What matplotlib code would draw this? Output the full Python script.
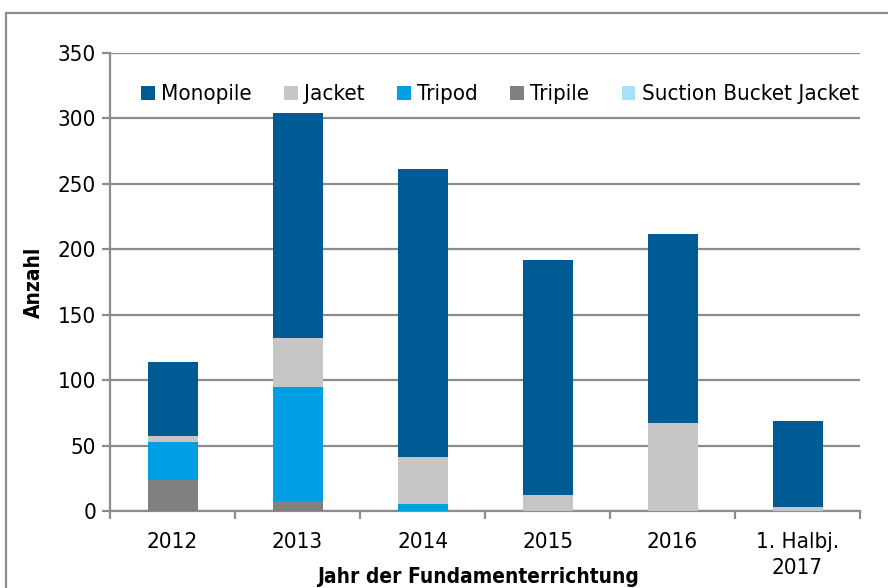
import numpy as np
import matplotlib.pyplot as plt
from matplotlib.patches import Rectangle

plt.rcParams['font.family'] = ['DejaVu Sans']
plt.rcParams['font.stretch'] = 'condensed'

# Daten
kategorien = ['2012', '2013', '2014', '2015', '2016', '1. Halbj.\n2017']
tripile = [24, 8, 0, 0, 0, 0]
tripod = [29, 87, 5, 0, 0, 0]
jacket = [4, 37, 36, 12, 67, 3]
monopile = [57, 172, 220, 180, 145, 66]
suction = [0, 0, 0, 0, 0, 0]

serien = [('Monopile', monopile, '#005A94'),
          ('Jacket', jacket, '#C6C6C6'),
          ('Tripod', tripod, '#009FE3'),
          ('Tripile', tripile, '#808080'),
          ('Suction Bucket Jacket', suction, '#A6E1F8')]

fig = plt.figure(figsize=(8.88, 5.88), dpi=100)
ax = fig.add_axes([110 / 888, 1 - 511 / 588, 750 / 888, 458 / 588])

x = np.arange(len(kategorien))
# Stapelreihenfolge von unten: Tripile, Tripod, Jacket, Monopile, Suction
unten = np.zeros(len(kategorien))
stapel = [serien[3], serien[2], serien[1], serien[0], serien[4]]
balken = {}
for name, werte, farbe in stapel:
    b = ax.bar(x, werte, 0.4, bottom=unten, color=farbe, zorder=3, label=name)
    balken[name] = b
    unten += np.array(werte)

ax.set_xlim(-0.5, len(kategorien) - 0.5)
ax.set_ylim(0, 350)
ax.set_yticks(range(0, 351, 50))
ax.yaxis.grid(True, color='#8C8C8C', linewidth=1.6, zorder=0)
ax.set_xticks(x)
ax.set_xticklabels(kategorien, fontsize=16, linespacing=1.4)
ax.set_xticks(np.arange(-0.5, len(kategorien)), minor=True)
ax.tick_params(axis='x', which='major', length=0, pad=15)
ax.tick_params(axis='x', which='minor', length=6, width=1.6, color='#8C8C8C')
ax.tick_params(axis='y', length=6, width=1.6, color='#8C8C8C', labelsize=16, pad=4)

for s in ['top', 'right']:
    ax.spines[s].set_visible(False)
for s in ['left', 'bottom']:
    ax.spines[s].set_color('#8C8C8C')
    ax.spines[s].set_linewidth(1.6)

ax.set_ylabel('Anzahl', fontsize=15, fontweight='bold', labelpad=10)
ax.set_xlabel('Jahr der Fundamenterrichtung', fontsize=15, fontweight='bold')
ax.xaxis.set_label_coords(0.49, -0.122)

handles = [balken[n] for n, _, _ in serien]
labels = [n for n, _, _ in serien]
ax.legend(handles, labels, loc='upper center', bbox_to_anchor=(0.52, 0.975), ncol=5,
          frameon=False, fontsize=16, handlelength=0.6, handleheight=0.6,
          handletextpad=0.3, columnspacing=1.45)

# Rahmen um das Diagramm
fig.patches.append(Rectangle((6 / 888, -0.05), 1.2, 1 - 13 / 588 + 0.05, transform=fig.transFigure,
                             fill=False, edgecolor='#8C8C8C', linewidth=1.6))

fig.savefig('out.png', dpi=100)
